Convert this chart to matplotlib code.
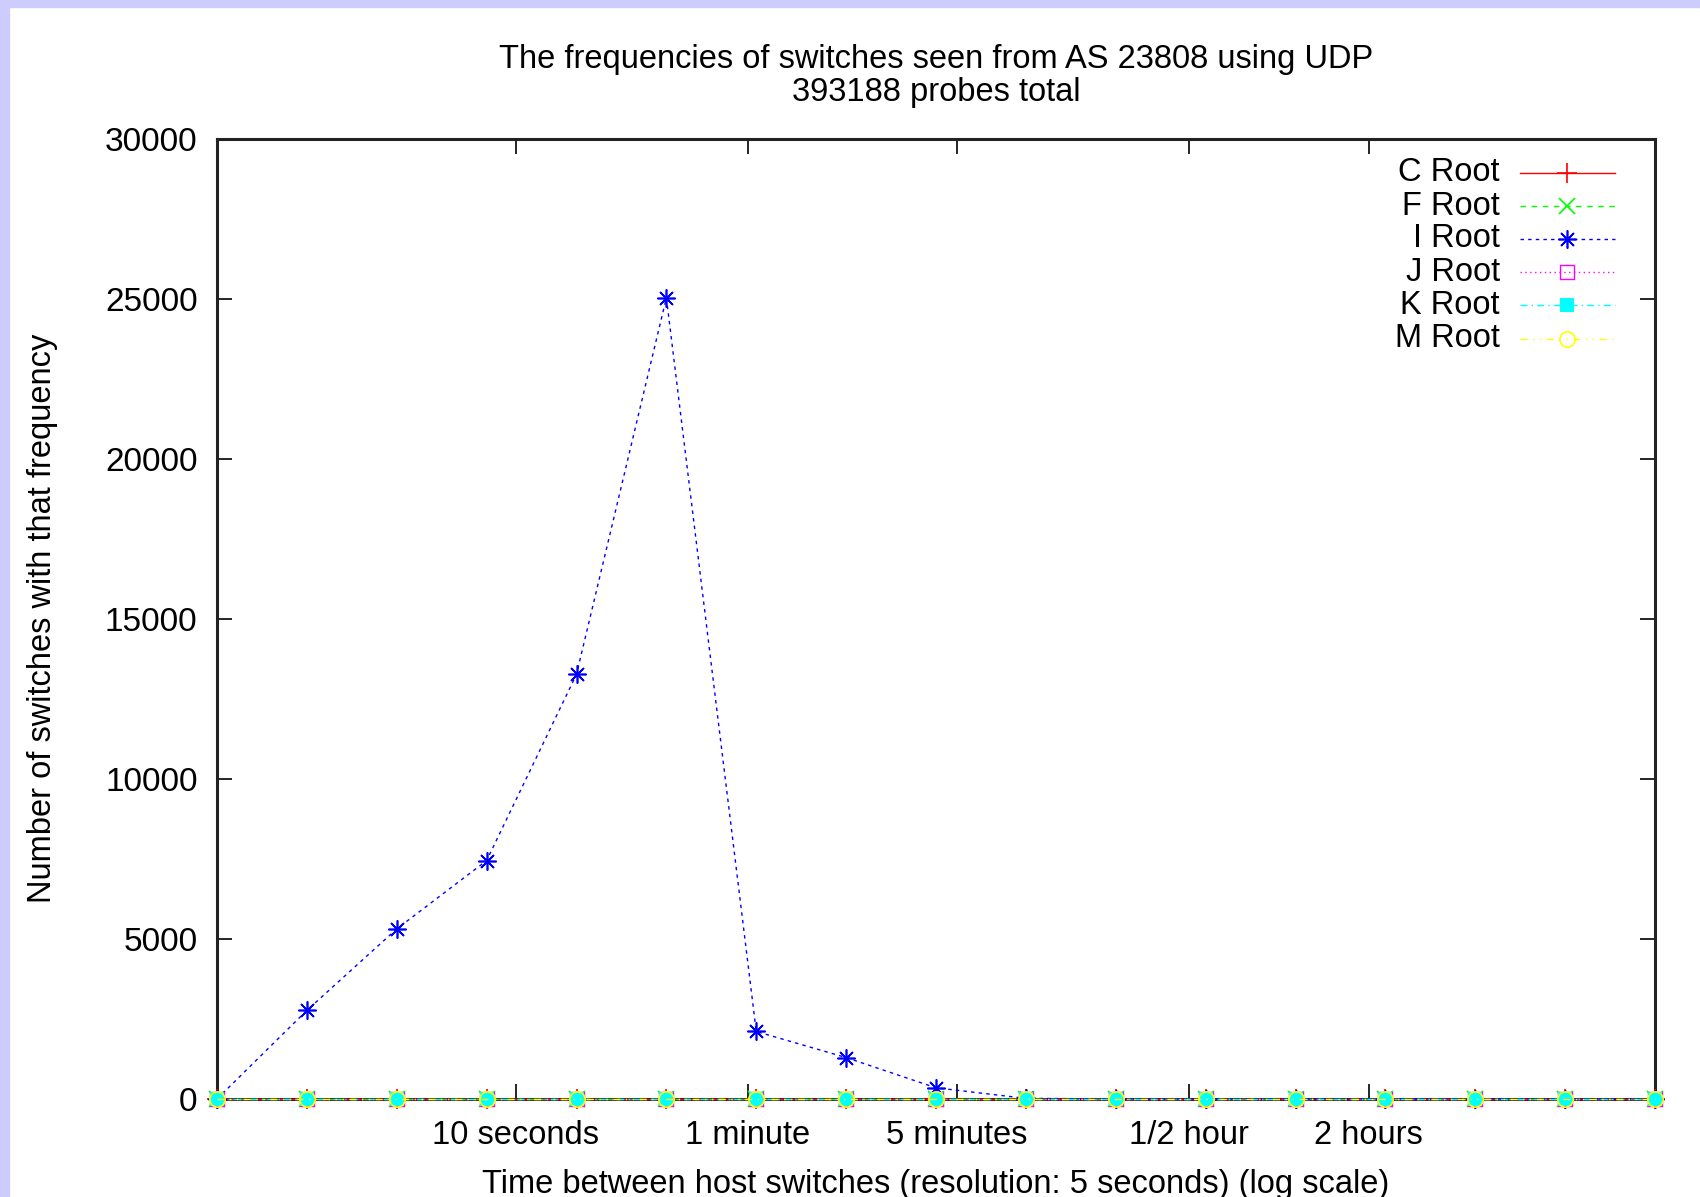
import matplotlib
matplotlib.use("Agg")
import matplotlib.pyplot as plt
from matplotlib.patches import Rectangle

plt.rcParams['font.family'] = ['Liberation Sans', 'DejaVu Sans']

# bins: time between switches in seconds (log2 spaced)
bin_seconds = [1, 2, 4, 8, 16, 32, 64, 128, 256, 512, 1024, 2048, 4096, 8192, 16384, 32768, 65536]

# counts per root server
c_root = [0, 0, 0, 0, 0, 0, 0, 0, 0, 0, 0, 0, 0, 0, 0, 0, 0]
f_root = [0, 0, 0, 0, 0, 0, 0, 0, 0, 0, 0, 0, 0, 0, 0, 0, 0]
i_root = [0, 2770, 5316, 7450, 13270, 25040, 2110, 1295, 350, 20, 0, 0, 0, 0, 0, 0, 0]
j_root = [0, 0, 0, 0, 0, 0, 0, 0, 0, 0, 0, 0, 0, 0, 0, 0, 0]
k_root = [0, 0, 0, 0, 0, 0, 0, 0, 0, 0, 0, 0, 0, 0, 0, 0, 0]
m_root = [0, 0, 0, 0, 0, 0, 0, 0, 0, 0, 0, 0, 0, 0, 0, 0, 0]

root_names = ['C Root', 'F Root', 'I Root', 'J Root', 'K Root', 'M Root']

xtick_vals = [10, 60, 300, 1800, 7200]
xtick_labels = ['10 seconds', '1 minute', '5 minutes', '1/2 hour', '2 hours']
ytick_vals = [0, 5000, 10000, 15000, 20000, 25000, 30000]

FS = 23.5

# gnuplot-ish styles
styles = [
    dict(color='#ff0000', ls='-', marker='+', mfc='none', ms=15, mew=1.2),
    dict(color='#00ff00', ls=(0, (4, 4)), marker='x', mfc='none', ms=11, mew=1.2),
    dict(color='#0000ff', ls=(0, (2.5, 3)), marker=(8, 2, 0), mfc='none', ms=13, mew=1.2),
    dict(color='#ff00ff', ls=(0, (1, 2.5)), marker='s', mfc='none', ms=10, mew=1.0),
    dict(color='#00ffff', ls=(0, (5, 3, 1, 3)), marker='s', mfc='#00ffff', ms=10, mew=0),
    dict(color='#ffff00', ls=(0, (5, 4, 1, 4, 1, 4)), marker='o', mfc='none', ms=11, mew=1.2),
]

fig = plt.figure(figsize=(17, 11.97), dpi=100, facecolor='white')
# lavender page frame
fig.patches.append(Rectangle((0, 1 - 7 / 1197), 1, 7 / 1197, transform=fig.transFigure,
                             color='#ccccff', zorder=0))
fig.patches.append(Rectangle((0, 0), 9 / 1700, 1, transform=fig.transFigure,
                             color='#ccccff', zorder=0))

ax = fig.add_axes([217 / 1700, 1 - 1099 / 1197, (1655 - 217) / 1700, (1099 - 139) / 1197])

all_series = [c_root, f_root, i_root, j_root, k_root, m_root]
for name, vals, st in zip(root_names, all_series, styles):
    ax.plot(bin_seconds, vals, color=st['color'], linestyle=st['ls'], linewidth=1.0,
            marker=st['marker'], markersize=st['ms'], markerfacecolor=st['mfc'],
            markeredgecolor=st['color'], markeredgewidth=st['mew'], clip_on=False, zorder=3)

ax.set_xscale('log', base=2)
ax.set_xlim(1, 65536)
ax.set_ylim(0, 30000)
ax.set_xticks(xtick_vals)
ax.set_xticklabels(xtick_labels)
ax.xaxis.set_minor_locator(matplotlib.ticker.NullLocator())
ax.set_yticks(ytick_vals)
ax.set_yticklabels([str(v) for v in ytick_vals])
ax.tick_params(axis='both', direction='in', length=11, width=1.2, labelsize=FS,
               top=True, right=True)
ax.tick_params(axis='x', pad=15)
ax.tick_params(axis='y', pad=14, labelsize=24)
for sp in ax.spines.values():
    sp.set_linewidth(2.2)
    sp.set_color('#222222')

# legend drawn gnuplot style: right aligned text, sample to the right
leg_rows = [0.965, 0.930, 0.896, 0.861, 0.827, 0.792]
for name, st, yy in zip(root_names, styles, leg_rows):
    ax.text(0.892, yy, name, transform=ax.transAxes, ha='right', va='center', fontsize=FS)
    ax.plot([0.906, 0.972], [yy, yy], transform=ax.transAxes, color=st['color'],
            linestyle=st['ls'], linewidth=1.0, clip_on=False)
    ax.plot([0.939], [yy], transform=ax.transAxes, color=st['color'], marker=st['marker'],
            markersize=st['ms'], markerfacecolor=st['mfc'], markeredgecolor=st['color'],
            markeredgewidth=st['mew'], clip_on=False)

fig.text(936 / 1700, 1 - 76 / 1197,
         'The frequencies of switches seen from AS 23808 using UDP\n393188 probes total',
         ha='center', va='center', fontsize=FS, linespacing=1.1)
fig.text(43 / 1700, 1 - 618 / 1197, 'Number of switches with that frequency',
         rotation=90, ha='center', va='center', fontsize=FS)
fig.text(936 / 1700, 1 - 1184 / 1197,
         'Time between host switches (resolution: 5 seconds) (log scale)',
         ha='center', va='center', fontsize=FS)

fig.savefig('out.png', dpi=100, facecolor='white')
